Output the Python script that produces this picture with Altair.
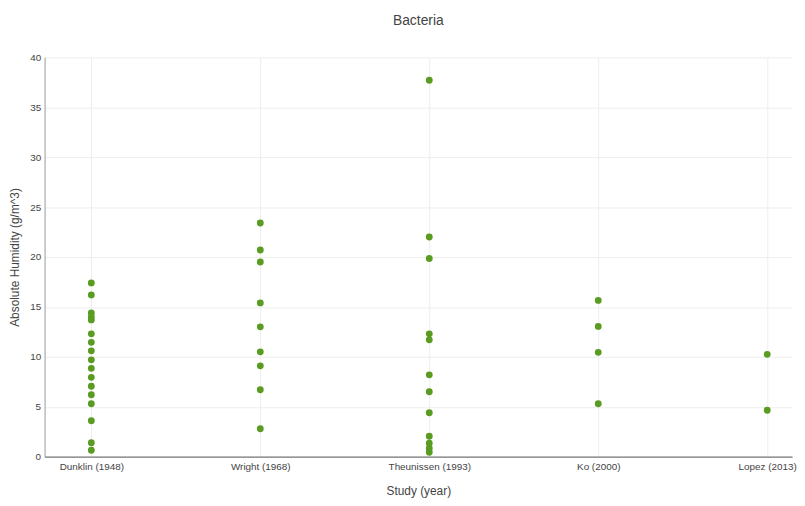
import altair as alt
import pandas as pd

studies = ["Dunklin (1948)", "Wright (1968)", "Theunissen (1993)", "Ko (2000)", "Lopez (2013)"]

dunklin = [17.4, 16.2, 14.4, 14.0, 13.7, 12.3, 11.45, 10.6, 9.7, 8.85, 7.95, 7.05, 6.2, 5.3, 3.6, 1.4, 0.65]
wright = [23.4, 20.7, 19.5, 15.4, 13.0, 10.5, 9.1, 6.7, 2.8]
theunissen = [37.7, 22.0, 19.85, 12.3, 11.7, 8.2, 6.5, 4.4, 2.05, 1.35, 0.85, 0.45]
ko = [15.65, 13.05, 10.45, 5.3]
lopez = [10.25, 4.65]

series = [dunklin, wright, theunissen, ko, lopez]
rows = []
for name, vals in zip(studies, series):
    for v in vals:
        rows.append({"study": name, "humidity": v})
df = pd.DataFrame(rows)

font = "Liberation Sans"

chart = alt.Chart(df).mark_circle(size=48, opacity=1, color="#5a9c22").encode(
    x=alt.X("study:N", sort=studies,
            scale=alt.Scale(type="point", padding=0.2118, align=0.653),
            axis=alt.Axis(title="Study (year)", labelAngle=0, ticks=False,
                          labelFontSize=10, labelColor="#444", labelPadding=5,
                          titleFontSize=12, titleFontWeight="normal", titleColor="#444",
                          titlePadding=14, domainColor="#777", domainWidth=1.2,
                          grid=True, gridColor="#eeeeee", labelFont=font, titleFont=font)),
    y=alt.Y("humidity:Q", scale=alt.Scale(domain=[0, 40], nice=False, zero=True),
            axis=alt.Axis(title="Absolute Humidity (g/m^3)", values=list(range(0, 45, 5)),
                          ticks=False, labelFontSize=10, labelColor="#444", labelPadding=4,
                          titleFontSize=12, titleFontWeight="normal", titleColor="#444",
                          titlePadding=8, domainColor="#999", grid=True, gridColor="#eeeeee",
                          labelFont=font, titleFont=font)),
).properties(
    width=756,
    height=404,
    title=alt.Title("Bacteria", fontSize=14, fontWeight="normal", color="#444",
                    anchor="middle", offset=25, font=font),
    padding={"left": 0, "top": 3, "right": 0, "bottom": 2},
).configure_view(stroke=None)

chart.save("out.html", embed_options={"renderer": "svg", "actions": False})
